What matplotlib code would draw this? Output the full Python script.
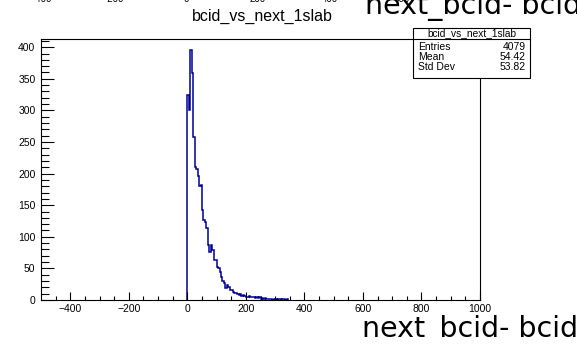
import numpy as np
import matplotlib
matplotlib.use("Agg")
import matplotlib.pyplot as plt
from matplotlib.patches import Rectangle
from matplotlib.transforms import Bbox

# histogram bin contents, bins of width 5 starting at 0
bin_width = 5
counts = [324, 300, 395, 359, 258, 210, 207, 197, 180, 182,
          142, 126, 123, 114, 87, 76, 87, 79, 63, 63,
          52, 50, 44, 37, 30, 27, 19, 24, 20, 16,
          16, 13, 11, 11, 9, 8, 10, 7, 8, 6,
          5, 5, 6, 5, 4, 5, 3, 4, 3, 4,
          2, 3, 2, 3, 1, 2, 1, 2, 0, 1,
          1, 0, 1, 1, 0, 1, 1, 0, 1]
edges = np.arange(len(counts) + 1) * bin_width

hist_name = "bcid_vs_next_1slab"
stat_names = ["Entries", "Mean", "Std Dev"]
stat_values = ["4079", "54.42", "53.82"]
xlabel = "next_bcid- bcid"
top_ticklabels = ["-400", "-200", "0", "200", "400", "600"]

W, H = 577, 349
fig = plt.figure(figsize=(W / 100, H / 100), dpi=100)
font = "Liberation Sans"

ax = fig.add_axes([41 / W, 1 - 300 / H, (480 - 41) / W, (300 - 39) / H])
ax.stairs(counts, edges, color="#000099", linewidth=1.1)
ax.set_xlim(-500, 1000)
ax.set_ylim(0, 413)

ax.set_xticks(np.arange(-400, 1001, 200))
ax.set_xticks(np.arange(-450, 1001, 50), minor=True)
ax.set_yticks(np.arange(0, 401, 50))
ax.set_yticks(np.arange(0, 411, 10), minor=True)
ax.tick_params(axis="x", which="major", direction="in", length=5.5, width=0.8,
               top=False, labelsize=7.5, pad=3)
ax.tick_params(axis="x", which="minor", direction="in", length=2.7, width=0.8, top=False)
ax.tick_params(axis="y", which="major", direction="in", length=9.5, width=0.8,
               right=False, labelsize=7.5, pad=4)
ax.tick_params(axis="y", which="minor", direction="in", length=5.5, width=0.8, right=False)
for lab in ax.get_xticklabels() + ax.get_yticklabels():
    lab.set_fontfamily(font)
for sp in ax.spines.values():
    sp.set_linewidth(0.8)

# title
fig.text(262 / W, 1 - 16 / H, hist_name, ha="center", va="center",
         fontsize=11.5, family=font)

# stats box
bx0, bx1, by0, by1 = 413, 530, 28, 78
fig.add_artist(Rectangle((bx0 / W, 1 - by1 / H), (bx1 - bx0) / W, (by1 - by0) / H,
                         transform=fig.transFigure, facecolor="white",
                         edgecolor="black", linewidth=0.8, zorder=5))
fig.add_artist(plt.Line2D([bx0 / W, bx1 / W], [1 - 38.5 / H, 1 - 38.5 / H],
                          transform=fig.transFigure, color="black", linewidth=0.8, zorder=6))
fig.text((bx0 + bx1) / 2 / W, 1 - 33.5 / H, hist_name, ha="center", va="center",
         fontsize=7.3, family=font, zorder=7)
for i, (n, v) in enumerate(zip(stat_names, stat_values)):
    yy = 1 - (46.5 + i * 10.5) / H
    fig.text(418 / W, yy, n, ha="left", va="center", fontsize=7.5, family=font, zorder=7)
    fig.text(526 / W, yy, v, ha="right", va="center", fontsize=7.5, family=font, zorder=7)

# axis label at bottom right (underscore clipped like the reference)
t = fig.text(362 / W, 1 - 337 / H, xlabel, ha="left", va="baseline", fontsize=20.5,
             family="DejaVu Sans")
t.set_clip_box(Bbox([[0, H - 337], [W, H]]))
t.set_clip_on(True)

# cut-off remnants at the very top of the canvas
fig.text(365 / W, 1 - 14 / H, xlabel, ha="left", va="baseline", fontsize=20.5,
         family="DejaVu Sans")
for i, s in enumerate(top_ticklabels):
    fig.text((42 + i * 72) / W, 1 - 2.5 / H, s, ha="center", va="baseline",
             fontsize=7, family=font)

fig.savefig("out.png", dpi=100)
